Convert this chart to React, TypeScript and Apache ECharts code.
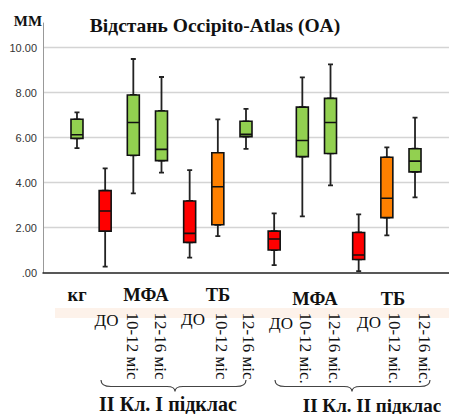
import React, { useEffect, useRef } from "react";
import * as echarts from "echarts";

// ---- data ----
const categories = [
  "КГ",
  "І ДО",
  "І МФА 10-12",
  "І МФА 12-16",
  "І ТБ ДО",
  "І ТБ 10-12",
  "І ТБ 12-16",
  "ІІ ДО",
  "ІІ МФА 10-12",
  "ІІ МФА 12-16",
  "ІІ ТБ ДО",
  "ІІ ТБ 10-12",
  "ІІ ТБ 12-16",
];
const mins = [5.54, 0.27, 3.53, 4.45, 0.67, 1.63, 5.5, 0.34, 2.5, 3.88, 0.07, 1.66, 3.35];
const q1s = [5.97, 1.85, 5.22, 4.98, 1.35, 2.13, 6.05, 1.01, 5.16, 5.3, 0.59, 2.45, 4.48];
const medians = [6.13, 2.74, 6.68, 5.48, 1.75, 3.82, 6.15, 1.5, 5.88, 6.68, 0.79, 3.31, 4.96];
const q3s = [6.82, 3.65, 7.9, 7.19, 3.19, 5.33, 6.73, 1.85, 7.36, 7.75, 1.79, 5.13, 5.51];
const maxs = [7.13, 4.64, 9.5, 8.7, 4.56, 6.82, 7.28, 2.64, 8.68, 9.26, 2.59, 5.57, 6.89];
const boxKinds = ["g", "r", "g", "g", "r", "o", "g", "r", "g", "g", "r", "o", "g"];

const yTicks = [0, 2, 4, 6, 8, 10];
const titleText = "Відстань Occipito-Atlas (OA)";
const unitText = "ММ";
const groupLabels = ["кг", "МФА", "ТБ", "МФА", "ТБ"];
const doLabels = ["ДО", "ДО", "ДО", "ДО"];
const periodLabels = [
  "10-12 міс",
  "12-16 міс",
  "10-12 міс",
  "12-16 міс",
  "10-12 міс.",
  "12-16 міс.",
  "10-12 міс.",
  "12-16 міс.",
];
const subclassLabels = ["ІІ Кл. І підклас", "ІІ Кл. ІІ підклас"];

// ---- layout / style ----
const COLORS: Record<string, string> = { g: "#92d050", r: "#ff0000", o: "#ff8000" };
const SERIF = "Liberation Serif";
const SANS = "Liberation Sans";
const Y_MAX = 11.1;
const GRID_TOP = 23;
const GRID_BOTTOM = 141.3;

const groupPos = [
  [77, 295],
  [146, 295],
  [218, 295],
  [315, 299],
  [393, 299],
];
const doPos = [
  [106.5, 320],
  [193, 319],
  [281, 323],
  [369, 322],
];
const periodX = [132, 160, 221, 248, 305, 334, 394, 424];
const subclassPos = [
  [168, 403.5],
  [372, 405],
];
const subclassSize = [20, 19];

function bracePath(x1: number, x2: number, tip: number, yTop: number, yMid: number, yTip: number) {
  return (
    `M${x1},${yTop} Q${x1},${yMid} ${x1 + 10},${yMid} L${tip - 8},${yMid} ` +
    `Q${tip},${yMid} ${tip},${yTip} Q${tip},${yMid} ${tip + 8},${yMid} ` +
    `L${x2 - 10},${yMid} Q${x2},${yMid} ${x2},${yTop}`
  );
}

echarts.graphic.registerShape("brace1", echarts.graphic.extendPath(bracePath(101, 246, 175, 380, 386.5, 391.5), {}) as any);
echarts.graphic.registerShape("brace2", echarts.graphic.extendPath(bracePath(275, 430, 352, 380, 386.5, 391.5), {}) as any);

function textEl(t: string, x: number, y: number, size: number, bold: boolean, align = "center", rotation = 0) {
  return {
    type: "text",
    x,
    y,
    rotation,
    style: {
      text: t,
      fontFamily: SERIF,
      fontSize: size,
      fontWeight: bold ? "bold" : "normal",
      fill: "#111",
      align,
      verticalAlign: "middle",
      textAlign: align,
      textVerticalAlign: "middle",
    },
  };
}

export default function App() {
  const ref = useRef<HTMLDivElement>(null);

  useEffect(() => {
    if (!ref.current) return;
    const chart = echarts.init(ref.current, null, { renderer: "svg" });

    const wideData = categories.map((_, i) => ({
      value: [q1s[i], q1s[i], medians[i], q3s[i], q3s[i]],
      itemStyle: { color: COLORS[boxKinds[i]] },
    }));
    const whiskerData = categories.map((_, i) => [mins[i], q1s[i], medians[i], q3s[i], maxs[i]]);

    const graphics: any[] = [];
    graphics.push({
      type: "rect",
      z: 0,
      shape: { x: 55, y: 308, width: 394, height: 10 },
      style: { fill: "#fdf2ea" },
      silent: true,
    });
    graphics.push(textEl(titleText, 215, 25, 19.5, true));
    graphics.push(textEl(unitText, 28, 21, 15, true));
    groupLabels.forEach((t, i) => graphics.push(textEl(t, groupPos[i][0], groupPos[i][1], 18.5, true)));
    doLabels.forEach((t, i) => graphics.push(textEl(t, doPos[i][0], doPos[i][1], 17, false)));
    periodLabels.forEach((t, i) => graphics.push(textEl(t, periodX[i], 312.5, 17, false, "left", -Math.PI / 2)));
    subclassLabels.forEach((t, i) =>
      graphics.push(textEl(t, subclassPos[i][0], subclassPos[i][1], subclassSize[i], true))
    );
    ["brace1", "brace2"].forEach((b) => {
      graphics.push({
        type: b,
        x: 0,
        y: 0,
        style: { fill: "none", stroke: "#444", lineWidth: 1.2 },
      });
    });

    chart.setOption({
      animation: false,
      backgroundColor: "#fff",
      grid: [
        { left: 43, right: 0, top: GRID_TOP, bottom: GRID_BOTTOM },
        { left: 62.9, right: 19.9, top: GRID_TOP, bottom: GRID_BOTTOM },
      ],
      xAxis: [
        {
          gridIndex: 0,
          type: "value",
          min: 0,
          max: 1,
          axisLabel: { show: false },
          axisTick: { show: false },
          splitLine: { show: false },
          axisLine: { show: true, lineStyle: { color: "#222", width: 1.5 } },
        },
        { gridIndex: 1, type: "category", data: categories, show: false },
        { gridIndex: 1, type: "category", data: categories, show: false },
      ],
      yAxis: [
        {
          gridIndex: 0,
          type: "value",
          min: 0,
          max: Y_MAX,
          interval: 2,
          axisLine: { show: true, lineStyle: { color: "#999", width: 1 } },
          axisTick: { show: false },
          axisLabel: {
            showMaxLabel: false,
            margin: 6,
            color: "#333",
            fontFamily: SANS,
            fontSize: 11,
            formatter: (v: number) => (yTicks.includes(v) ? (v === 0 ? ".00" : v.toFixed(2)) : ""),
          },
          splitLine: {
            show: true,
            showMaxLine: false,
            showMinLine: false,
            lineStyle: { color: "#d4d4d4", width: 1.3 },
          },
        },
        { gridIndex: 1, type: "value", min: 0, max: Y_MAX, show: false, splitLine: { show: false } },
      ],
      series: [
        {
          type: "boxplot",
          xAxisIndex: 1,
          yAxisIndex: 1,
          z: 3,
          boxWidth: [5, 5],
          data: whiskerData,
          itemStyle: { color: "transparent", borderColor: "#222", borderWidth: 1.8 },
        },
        {
          type: "boxplot",
          xAxisIndex: 2,
          yAxisIndex: 1,
          z: 4,
          boxWidth: [12, 12],
          data: wideData,
          itemStyle: { borderColor: "#111", borderWidth: 1.6 },
        },
      ],
      graphic: graphics,
    });

    return () => chart.dispose();
  }, []);

  return <div ref={ref} style={{ position: "fixed", left: 0, top: 0, width: 449, height: 414 }} />;
}
